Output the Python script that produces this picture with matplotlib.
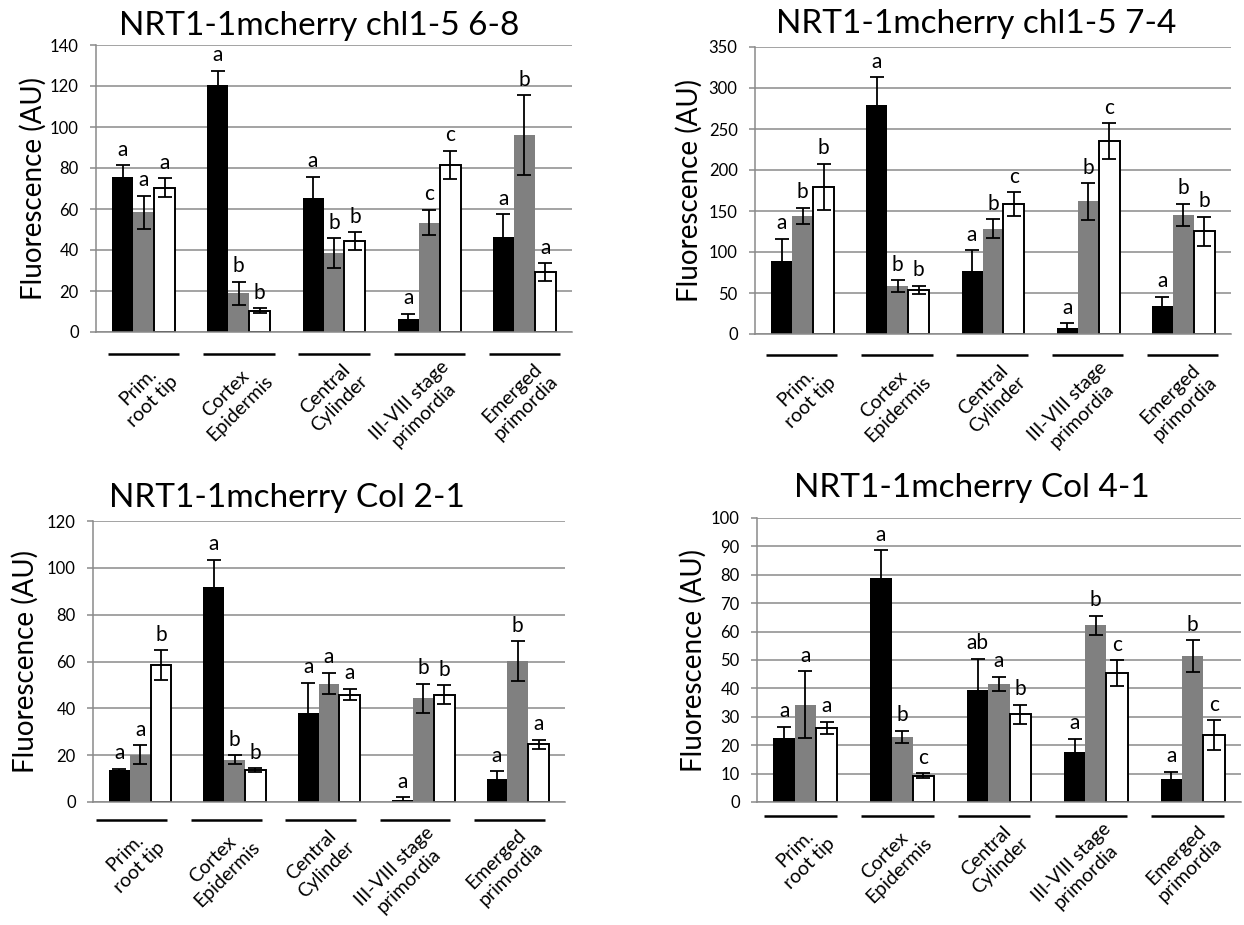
import matplotlib
matplotlib.use("Agg")
import matplotlib.pyplot as plt
import matplotlib.transforms as mtransforms
import numpy as np

plt.rcParams['font.family'] = ['Lato', 'DejaVu Sans']

W, H = 1244, 925

categories = ["Prim.\nroot tip", "Cortex\nEpidermis", "Central\nCylinder",
              "III-VIII stage\nprimordia", "Emerged\nprimordia"]

# ----- data: three series per panel (black, grey, white) -----
titles = ["NRT1-1mcherry chl1-5 6-8", "NRT1-1mcherry chl1-5 7-4",
          "NRT1-1mcherry Col 2-1", "NRT1-1mcherry Col 4-1"]

p1_black = [75.8, 120.5, 65.2, 6.2, 46.3]
p1_grey = [58.4, 18.9, 38.4, 53.3, 96.1]
p1_white = [70.4, 10.4, 44.4, 81.6, 29.3]
p1_black_err = [5.5, 6.8, 10.6, 2.6, 11.1]
p1_grey_err = [8.0, 5.7, 7.4, 6.2, 19.4]
p1_white_err = [4.6, 1.2, 4.2, 6.8, 4.2]
p1_letters = [["a", "a", "a"], ["a", "b", "b"], ["a", "b", "b"], ["a", "c", "c"], ["a", "b", "a"]]

p2_black = [89.3, 279.3, 76.7, 7.7, 34.5]
p2_grey = [144.1, 58.5, 128.3, 161.6, 145.0]
p2_white = [179.5, 53.6, 158.7, 235.0, 125.0]
p2_black_err = [26.8, 33.7, 25.6, 5.3, 10.6]
p2_grey_err = [9.6, 7.1, 11.6, 22.0, 13.6]
p2_white_err = [28.4, 4.9, 14.2, 22.0, 18.0]
p2_letters = [["a", "b", "b"], ["a", "b", "b"], ["a", "b", "c"], ["a", "b", "c"], ["a", "b", "b"]]

p3_black = [13.5, 91.9, 38.1, 0.7, 10.0]
p3_grey = [20.2, 18.1, 50.6, 44.2, 60.1]
p3_white = [58.4, 13.5, 45.9, 45.9, 24.7]
p3_black_err = [0.7, 11.5, 12.7, 1.4, 3.1]
p3_grey_err = [4.1, 1.9, 4.6, 6.4, 8.5]
p3_white_err = [6.4, 0.9, 2.4, 4.0, 1.9]
p3_letters = [["a", "a", "b"], ["a", "b", "b"], ["a", "a", "a"], ["a", "b", "b"], ["a", "b", "a"]]

p4_black = [22.7, 78.8, 39.3, 17.6, 8.2]
p4_grey = [34.2, 22.9, 41.5, 62.2, 51.4]
p4_white = [26.1, 9.3, 30.9, 45.4, 23.5]
p4_black_err = [3.8, 9.8, 11.1, 4.7, 2.4]
p4_grey_err = [11.8, 2.2, 2.5, 3.3, 5.6]
p4_white_err = [2.1, 0.8, 3.4, 4.5, 5.2]
p4_letters = [["a", "a", "a"], ["a", "b", "c"], ["ab", "a", "b"], ["a", "b", "c"], ["a", "b", "c"]]

y_max = [140, 350, 120, 100]
y_step = [20, 50, 20, 10]

panels = [
    (p1_black, p1_grey, p1_white, p1_black_err, p1_grey_err, p1_white_err, p1_letters),
    (p2_black, p2_grey, p2_white, p2_black_err, p2_grey_err, p2_white_err, p2_letters),
    (p3_black, p3_grey, p3_white, p3_black_err, p3_grey_err, p3_white_err, p3_letters),
    (p4_black, p4_grey, p4_white, p4_black_err, p4_grey_err, p4_white_err, p4_letters),
]

# ----- layout (pixels) -----
axes_px = [(96, 45, 572, 332), (755, 47, 1231, 334), (93, 521, 565, 802), (757, 518, 1241, 802)]
title_px = [(319, 35), (976, 33), (287, 507), (972, 497)]
ylabel_x = [33, 689, 25, 693]
line_drop = [22, 21, 18, 14]      # group underline below the axis, px
line_shift = [0.0, -0.01, -0.09, -0.05]

GRID = '#8a8a8a'
fig = plt.figure(figsize=(W / 100, H / 100), dpi=100)

for k, (blk, gry, wht, be, ge, we, letters) in enumerate(panels):
    x0, y0, x1, y1 = axes_px[k]
    ax = fig.add_axes([x0 / W, 1 - y1 / H, (x1 - x0) / W, (y1 - y0) / H])
    x = np.arange(len(categories))
    bw = 0.22
    ekw = dict(ecolor='black', elinewidth=1.3, capsize=5, capthick=1.3)
    ax.bar(x - bw, blk, bw, color='black', yerr=be, error_kw=ekw, zorder=2)
    ax.bar(x, gry, bw, color='#808080', yerr=ge, error_kw=ekw, zorder=2)
    ax.bar(x + bw, wht, bw, color='white', edgecolor='black', linewidth=1.4,
           yerr=we, error_kw=ekw, zorder=2)

    tops = [np.array(blk) + be, np.array(gry) + ge, np.array(wht) + we]
    for i in range(len(categories)):
        for j in range(3):
            ax.annotate(letters[i][j], xy=(x[i] + (j - 1) * bw, tops[j][i]),
                        xytext=(0, 4), textcoords='offset points',
                        ha='center', va='bottom', fontsize=15)

    ax.set_xlim(-0.5, len(categories) - 0.5)
    ax.set_ylim(0, y_max[k])
    ax.set_yticks(np.arange(0, y_max[k] + 1, y_step[k]))
    ax.set_xticks([])
    ax.yaxis.grid(True, color=GRID, linewidth=1.1)
    ax.set_axisbelow(True)
    for s in ['top', 'right']:
        ax.spines[s].set_visible(False)
    ax.spines['left'].set_color(GRID)
    ax.spines['left'].set_linewidth(1.1)
    ax.spines['bottom'].set_color(GRID)
    ax.spines['bottom'].set_linewidth(1.1)
    ax.tick_params(axis='y', direction='out', length=4.5, width=1.1, color=GRID,
                   pad=8, labelsize=12, labelcolor='black')

    # group underlines and two-line rotated labels
    trans = mtransforms.blended_transform_factory(ax.transData, ax.transAxes)
    ly = -line_drop[k] / (y1 - y0)
    for i, lab in enumerate(categories):
        c = x[i] + line_shift[k]
        ax.plot([c - 0.375, c + 0.375], [ly, ly], color='black', linewidth=1.8,
                transform=trans, clip_on=False, solid_capstyle='butt')
        ax.annotate(lab, xy=(c + 0.39, ly), xycoords=trans,
                    xytext=(0, -3), textcoords='offset points',
                    rotation=45, ha='right', va='top', multialignment='center',
                    linespacing=1.25, fontsize=14, annotation_clip=False)

    tx, ty = title_px[k]
    fig.text(tx / W, 1 - ty / H, titles[k], ha='center', va='baseline', fontsize=24)
    fig.text(ylabel_x[k] / W, 1 - (y0 + y1) / 2 / H, 'Fluorescence (AU)',
             rotation=90, ha='center', va='center', fontsize=20)

fig.savefig('out.png', dpi=100)
